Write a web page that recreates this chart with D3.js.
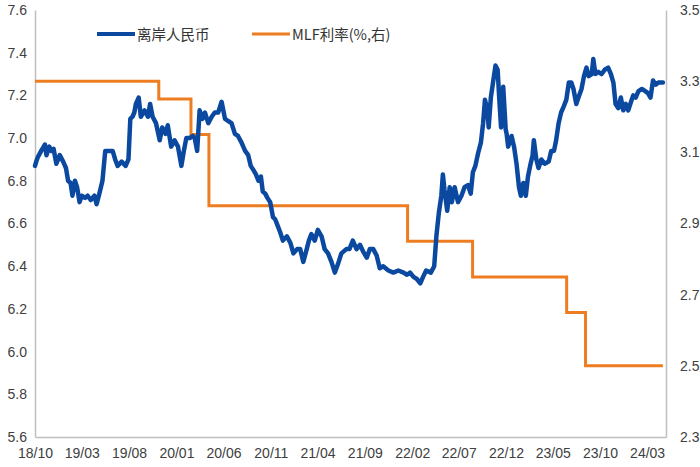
<!DOCTYPE html>
<html><head><meta charset="utf-8">
<script src="https://cdn.jsdelivr.net/npm/d3@7"></script>
<style>html,body{margin:0;padding:0;background:#fff;}svg{display:block;}</style>
</head><body>
<svg id="chart" width="700" height="467"></svg>
<script>
// ---- data ----
const cnhDates = ["2018-10-01","2018-10-05","2018-10-10","2018-10-21","2018-11-02","2018-11-07","2018-11-16","2018-11-23","2018-11-30","2018-12-09","2018-12-20","2018-12-31",
"2019-01-09","2019-01-16","2019-01-24","2019-01-30","2019-02-07","2019-02-14","2019-02-22","2019-03-01","2019-03-12","2019-03-20","2019-03-30","2019-04-11","2019-04-18","2019-04-27",
"2019-05-07","2019-05-16","2019-05-26","2019-06-09","2019-06-17","2019-06-25","2019-07-08","2019-07-21","2019-07-30","2019-08-05","2019-08-12","2019-08-18","2019-08-23","2019-09-01",
"2019-09-08","2019-09-20","2019-10-01","2019-10-08","2019-10-16","2019-10-27","2019-11-08","2019-11-16","2019-11-27","2019-12-04","2019-12-15","2019-12-26",
"2020-01-06","2020-01-17","2020-01-25","2020-02-02","2020-02-13","2020-02-23","2020-02-29","2020-03-08","2020-03-16","2020-03-25","2020-04-02","2020-04-13","2020-04-24",
"2020-05-04","2020-05-15","2020-05-26","2020-06-06","2020-06-16","2020-06-27","2020-07-08","2020-07-18","2020-07-29","2020-08-10","2020-08-20","2020-08-28","2020-09-06",
"2020-09-14","2020-09-22","2020-09-30","2020-10-06","2020-10-14","2020-10-21","2020-10-30","2020-11-08","2020-11-15","2020-11-23","2020-12-01","2020-12-10","2020-12-23",
"2021-01-03","2021-01-13","2021-01-25","2021-02-04","2021-02-14","2021-02-25","2021-03-04","2021-03-12","2021-03-23","2021-04-02","2021-04-14","2021-04-24","2021-05-05",
"2021-05-16","2021-05-27","2021-06-06","2021-06-17","2021-07-03","2021-07-13","2021-07-24","2021-08-05","2021-08-16","2021-08-26","2021-09-07","2021-09-17","2021-09-28",
"2021-10-09","2021-10-19","2021-10-30","2021-11-16","2021-12-02","2021-12-18","2022-01-04","2022-01-15","2022-01-25","2022-02-05","2022-02-16","2022-02-27","2022-03-08",
"2022-03-18","2022-04-02","2022-04-13","2022-04-20","2022-04-28","2022-05-06","2022-05-11","2022-05-16","2022-05-25","2022-06-02","2022-06-09","2022-06-18","2022-06-29",
"2022-07-10","2022-07-20","2022-07-31","2022-08-09","2022-08-16","2022-08-24","2022-09-02","2022-09-11","2022-09-18","2022-09-24","2022-10-02","2022-10-06","2022-10-13",
"2022-10-20","2022-10-28","2022-11-04","2022-11-09","2022-11-15","2022-11-22","2022-11-30","2022-12-03","2022-12-08","2022-12-19","2022-12-27",
"2023-01-04","2023-01-12","2023-01-18","2023-01-26","2023-02-03","2023-02-10","2023-02-17","2023-02-25","2023-03-01","2023-03-09","2023-03-16","2023-03-25","2023-04-05",
"2023-04-18","2023-04-26","2023-05-05","2023-05-12","2023-05-20","2023-05-28","2023-06-06","2023-06-14","2023-06-22","2023-06-30","2023-07-07","2023-07-16","2023-07-23",
"2023-08-02","2023-08-10","2023-08-18","2023-08-25","2023-09-04","2023-09-09","2023-09-16","2023-09-25","2023-10-06","2023-10-16","2023-10-27","2023-11-05","2023-11-13",
"2023-11-20","2023-11-29","2023-12-07","2023-12-15","2023-12-23","2023-12-31","2024-01-09","2024-01-16","2024-01-24","2024-02-02","2024-02-13","2024-02-24","2024-03-04",
"2024-03-12","2024-03-20","2024-03-29","2024-04-06","2024-04-14","2024-04-21"];
const cnhValues = [6.87,6.89,6.91,6.94,6.97,6.92,6.96,6.94,6.95,6.88,6.92,6.89,
6.86,6.80,6.79,6.73,6.80,6.77,6.70,6.73,6.72,6.73,6.71,6.73,6.69,6.74,
6.80,6.94,6.94,6.94,6.90,6.87,6.89,6.87,6.90,7.09,7.10,7.12,7.16,7.19,
7.10,7.13,7.10,7.16,7.10,7.07,6.99,7.05,7.02,7.06,6.96,6.99,
6.96,6.87,6.94,7.00,7.00,7.01,7.00,6.94,7.13,7.09,7.12,7.07,7.10,
7.12,7.12,7.17,7.09,7.08,7.07,7.02,7.01,6.98,6.94,6.92,6.87,6.85,
6.83,6.80,6.82,6.75,6.74,6.72,6.70,6.63,6.62,6.59,6.56,6.52,6.54,
6.51,6.46,6.48,6.48,6.42,6.48,6.52,6.55,6.52,6.57,6.54,6.48,6.46,
6.42,6.37,6.41,6.46,6.48,6.48,6.52,6.48,6.50,6.47,6.44,6.48,6.48,
6.45,6.39,6.40,6.38,6.37,6.38,6.37,6.36,6.37,6.35,6.34,6.32,6.35,
6.38,6.37,6.40,6.54,6.65,6.73,6.83,6.76,6.66,6.77,6.70,6.77,6.70,
6.73,6.77,6.78,6.74,6.84,6.87,6.93,6.98,7.07,7.18,7.13,7.05,7.19,
7.26,7.34,7.32,7.19,7.05,7.24,7.04,7.02,6.96,7.01,6.96,
6.88,6.77,6.73,6.79,6.73,6.82,6.87,6.92,6.99,6.90,6.86,6.90,6.88,
6.89,6.94,6.94,6.99,7.07,7.12,7.15,7.18,7.26,7.26,7.23,7.16,7.19,
7.23,7.29,7.33,7.29,7.30,7.37,7.30,7.31,7.30,7.32,7.33,7.30,7.26,
7.16,7.14,7.19,7.13,7.16,7.13,7.17,7.20,7.19,7.22,7.23,7.22,7.21,
7.19,7.27,7.25,7.26,7.26,7.26];
const mlfDates = ["2018-10-01","2019-11-05","2020-02-17","2020-04-15","2022-01-17","2022-08-15","2023-06-15","2023-08-15","2024-04-21"];
const mlfValues = [3.30,3.25,3.15,2.95,2.85,2.75,2.65,2.50,2.50];
const xTickDates = ["2018-10-01","2019-03-01","2019-08-01","2020-01-01","2020-06-01","2020-11-01","2021-04-01","2021-09-01","2022-02-01","2022-07-01","2022-12-01","2023-05-01","2023-10-01","2024-03-01"];
const leftTicks = [5.6,5.8,6.0,6.2,6.4,6.6,6.8,7.0,7.2,7.4,7.6];
const rightTicks = [2.3,2.5,2.7,2.9,3.1,3.3,3.5];
const seriesNames = ["离岸人民币","MLF利率(%,右)"];
const colors = ["#0b48a0","#ee7d22"];

// ---- chart ----
const parse = d3.timeParse("%Y-%m-%d");
const fmt = d3.timeFormat("%y/%m");
const svg = d3.select("#chart");
const L = 35, R = 666, T = 10, B = 437;
const font = "'Liberation Sans', Arial, sans-serif";
const txtColor = "#404040";

const x = d3.scaleTime().domain([parse("2018-10-01"), parse("2024-05-01")]).range([L, R]);
const yL = d3.scaleLinear().domain([5.6, 7.6]).range([B, T]);
const yR = d3.scaleLinear().domain([2.3, 3.5]).range([B, T]);

// axes
const axisColor = "#bfbfbf";
const gL = svg.append("g").attr("transform", `translate(${L},0)`)
  .call(d3.axisLeft(yL).tickValues(leftTicks).tickFormat(d3.format(".1f")).tickSize(0).tickPadding(8));
const gR = svg.append("g").attr("transform", `translate(${R},0)`)
  .call(d3.axisRight(yR).tickValues(rightTicks).tickFormat(d3.format(".1f")).tickSize(0).tickPadding(14));
const gB = svg.append("g").attr("transform", `translate(0,${B})`)
  .call(d3.axisBottom(x).tickValues(xTickDates.map(parse)).tickFormat(fmt).tickSize(0).tickPadding(11));
[gL, gR, gB].forEach(g => {
  g.select(".domain").attr("stroke", axisColor).attr("stroke-width", 1.5);
  g.selectAll("text").attr("font-family", font).attr("font-size", 14).attr("fill", txtColor);
});

// MLF step line
const mlfData = mlfDates.map((d, i) => ({d: parse(d), v: mlfValues[i]}));
svg.append("path").datum(mlfData)
  .attr("fill", "none").attr("stroke", colors[1]).attr("stroke-width", 3)
  .attr("d", d3.line().x(p => x(p.d)).y(p => yR(p.v)).curve(d3.curveStepAfter));

// CNH line
const cnhData = cnhDates.map((d, i) => ({d: parse(d), v: cnhValues[i]}));
svg.append("path").datum(cnhData)
  .attr("fill", "none").attr("stroke", colors[0]).attr("stroke-width", 4.5)
  .attr("stroke-linejoin", "round").attr("stroke-linecap", "round")
  .attr("d", d3.line().x(p => x(p.d)).y(p => yL(p.v)));

// legend
const legendX = [97, 252];
seriesNames.forEach((name, i) => {
  const g = svg.append("g").attr("transform", `translate(${legendX[i]},34)`);
  g.append("line").attr("x1", 0).attr("x2", 38).attr("y1", 0).attr("y2", 0)
    .attr("stroke", colors[i]).attr("stroke-width", i === 0 ? 4 : 3);
  g.append("text").attr("x", 40).attr("y", 5.5)
    .attr("font-family", "'Noto Sans CJK SC', 'Liberation Sans', sans-serif")
    .attr("font-size", 14.5).attr("fill", "#333").text(name);
});
</script>
</body></html>
